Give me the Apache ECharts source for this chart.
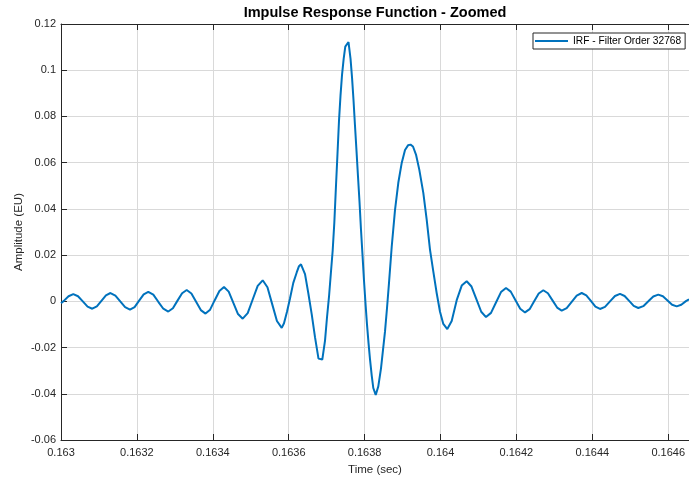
<!DOCTYPE html>
<html>
<head>
<meta charset="utf-8">
<title>Impulse Response Function - Zoomed</title>
<script src="https://cdn.jsdelivr.net/npm/echarts@6/dist/echarts.min.js"></script>
<style>
  html, body { margin: 0; padding: 0; background: #ffffff; }
  #chart { width: 689px; height: 478px; }
</style>
</head>
<body>
<div id="chart"></div>
<script>
// Impulse response, zoomed around the main lobe (time in seconds, amplitude in EU)
const timeSec = [
  0.1630000, 0.1630074, 0.1630199, 0.1630324, 0.1630449, 0.1630574, 0.1630700, 0.1630825,
  0.1630945, 0.1631065, 0.1631184, 0.1631304, 0.1631433, 0.1631561, 0.1631689, 0.1631818,
  0.1631939, 0.1632059, 0.1632179, 0.1632300, 0.1632432, 0.1632564, 0.1632696, 0.1632827,
  0.1632949, 0.1633070, 0.1633191, 0.1633312, 0.1633436, 0.1633560, 0.1633684, 0.1633808,
  0.1633929, 0.1634051, 0.1634174, 0.1634295, 0.1634419, 0.1634542, 0.1634664, 0.1634788,
  0.1634920, 0.1635051, 0.1635183, 0.1635315, 0.1635440, 0.1635565, 0.1635690, 0.1635816,
  0.1635876, 0.1635955, 0.1636034, 0.1636121, 0.1636211, 0.1636271, 0.1636324, 0.1636372,
  0.1636430, 0.1636516, 0.1636606, 0.1636693, 0.1636785, 0.1636885, 0.1636957, 0.1637009,
  0.1637062, 0.1637115, 0.1637159, 0.1637202, 0.1637246, 0.1637286, 0.1637325, 0.1637365,
  0.1637405, 0.1637449, 0.1637491, 0.1637576, 0.1637629, 0.1637668, 0.1637708, 0.1637747,
  0.1637787, 0.1637826, 0.1637866, 0.1637905, 0.1637945, 0.1637984, 0.1638024, 0.1638063,
  0.1638103, 0.1638142, 0.1638187, 0.1638229, 0.1638293, 0.1638361, 0.1638432, 0.1638485,
  0.1638538, 0.1638590, 0.1638643, 0.1638714, 0.1638801, 0.1638888, 0.1638978, 0.1639065,
  0.1639144, 0.1639210, 0.1639275, 0.1639354, 0.1639441, 0.1639547, 0.1639636, 0.1639723,
  0.1639810, 0.1639900, 0.1639987, 0.1640074, 0.1640179, 0.1640295, 0.1640427, 0.1640559,
  0.1640690, 0.1640817, 0.1640945, 0.1641073, 0.1641199, 0.1641331, 0.1641462, 0.1641594,
  0.1641726, 0.1641851, 0.1641976, 0.1642101, 0.1642227, 0.1642348, 0.1642468, 0.1642588,
  0.1642709, 0.1642830, 0.1642951, 0.1643073, 0.1643194, 0.1643325, 0.1643457, 0.1643589,
  0.1643721, 0.1643842, 0.1643962, 0.1644082, 0.1644203, 0.1644335, 0.1644466, 0.1644598,
  0.1644730, 0.1644851, 0.1644971, 0.1645091, 0.1645212, 0.1645344, 0.1645476, 0.1645607,
  0.1645739, 0.1645860, 0.1645982, 0.1646103, 0.1646224, 0.1646345, 0.1646467, 0.1646548
];

const amplitude = [
  -0.0008, 0.0002, 0.0022, 0.0031, 0.0022, 0.0000, -0.0023, -0.0032,
  -0.0022, 0.0002, 0.0026, 0.0036, 0.0025, 0.0000, -0.0025, -0.0036,
  -0.0025, 0.0003, 0.0030, 0.0041, 0.0029, -0.0002, -0.0032, -0.0044,
  -0.0030, 0.0003, 0.0035, 0.0049, 0.0034, -0.0002, -0.0038, -0.0053,
  -0.0036, 0.0005, 0.0045, 0.0062, 0.0042, -0.0007, -0.0055, -0.0075,
  -0.0051, 0.0008, 0.0067, 0.0091, 0.0061, -0.0012, -0.0085, -0.0115,
  -0.0095, -0.0045, 0.0012, 0.0080, 0.0125, 0.0152, 0.0160, 0.0155,
  0.0118, 0.0036, -0.0055, -0.0155, -0.0248, -0.0252, -0.0170, -0.0070,
  0.0020, 0.0130, 0.0220, 0.0340, 0.0500, 0.0640, 0.0780, 0.0890,
  0.0980, 0.1050, 0.1102, 0.1122, 0.1050, 0.0970, 0.0870, 0.0760,
  0.0650, 0.0540, 0.0430, 0.0310, 0.0200, 0.0090, -0.0010, -0.0100,
  -0.0180, -0.0250, -0.0320, -0.0375, -0.0405, -0.0368, -0.0290, -0.0210,
  -0.0130, -0.0030, 0.0080, 0.0235, 0.0395, 0.0513, 0.0599, 0.0655,
  0.0675, 0.0678, 0.0670, 0.0635, 0.0570, 0.0469, 0.0354, 0.0224,
  0.0130, 0.0035, -0.0045, -0.0098, -0.0120, -0.0085, 0.0005, 0.0068,
  0.0087, 0.0064, 0.0010, -0.0045, -0.0068, -0.0050, -0.0005, 0.0040,
  0.0058, 0.0042, 0.0005, -0.0032, -0.0048, -0.0034, 0.0000, 0.0034,
  0.0048, 0.0035, 0.0004, -0.0027, -0.0040, -0.0029, -0.0002, 0.0025,
  0.0036, 0.0026, 0.0002, -0.0023, -0.0033, -0.0024, 0.0000, 0.0023,
  0.0032, 0.0023, 0.0002, -0.0020, -0.0029, -0.0021, 0.0000, 0.0021,
  0.0029, 0.0022, 0.0004, -0.0015, -0.0022, -0.0015, 0.0001, 0.0009
];

const seriesName = 'IRF - Filter Order 32768';
const chartTitle = 'Impulse Response Function - Zoomed';
const xAxisTitle = 'Time (sec)';
const yAxisTitle = 'Amplitude (EU)';

// Axis ranges and tick spacing
const xRange = [0.163, 0.1646548];
const xStep = 0.0002;
const yRange = [-0.06, 0.12];
const yStep = 0.02;

const FONT = '"Liberation Sans", Arial, Helvetica, sans-serif';
const AXIS_COLOR = '#262626';
const GRID_COLOR = '#d9d9d9';
const LINE_COLOR = '#0072BD';

const chart = echarts.init(document.getElementById('chart'), null, { renderer: 'canvas' });

const option = {
  animation: false,
  backgroundColor: '#ffffff',
  grid: { left: 61, right: 0, top: 24, bottom: 38, containLabel: false, outerBoundsMode: 'none' },
  graphic: [{
    type: 'text',
    x: 375,
    y: 13,
    style: {
      text: chartTitle,
      font: 'bold 14.5px ' + FONT,
      fill: '#000000',
      align: 'center',
      verticalAlign: 'middle'
    },
    z: 10
  }],
  legend: {
    left: 533,
    top: 33,
    padding: [2, 4, 2, 2],
    itemWidth: 33,
    itemHeight: 2,
    icon: 'rect',
    borderColor: AXIS_COLOR,
    borderWidth: 1,
    backgroundColor: '#ffffff',
    textStyle: { fontFamily: FONT, fontSize: 10.2, color: '#000000', lineHeight: 12 },
    data: [seriesName]
  },
  xAxis: [{
    type: 'value',
    position: 'bottom',
    min: xRange[0],
    max: xRange[1],
    interval: xStep,
    name: xAxisTitle,
    nameLocation: 'middle',
    nameGap: 24,
    nameMoveOverlap: false,
    nameTextStyle: { fontFamily: FONT, fontSize: 11.5, color: AXIS_COLOR },
    axisLine: { show: true, onZero: false, lineStyle: { color: AXIS_COLOR, width: 1 } },
    axisTick: { show: true, inside: true, length: 6, lineStyle: { color: AXIS_COLOR } },
    axisLabel: { margin: 7, fontFamily: FONT, fontSize: 11, color: AXIS_COLOR, showMaxLabel: false },
    splitLine: { show: true, lineStyle: { color: GRID_COLOR, width: 1 } }
  }, {
    type: 'value',
    position: 'top',
    min: xRange[0],
    max: xRange[1],
    interval: xStep,
    axisLine: { show: true, onZero: false, lineStyle: { color: AXIS_COLOR, width: 1 } },
    axisTick: { show: true, inside: true, length: 6, lineStyle: { color: AXIS_COLOR } },
    axisLabel: { show: false },
    splitLine: { show: false }
  }],
  yAxis: [{
    type: 'value',
    position: 'left',
    min: yRange[0],
    max: yRange[1],
    interval: yStep,
    name: yAxisTitle,
    nameLocation: 'middle',
    nameGap: 36,
    nameMoveOverlap: false,
    nameRotate: 90,
    nameTextStyle: { fontFamily: FONT, fontSize: 11.5, color: AXIS_COLOR },
    axisLine: { show: true, onZero: false, lineStyle: { color: AXIS_COLOR, width: 1 } },
    axisTick: { show: true, inside: true, length: 6, lineStyle: { color: AXIS_COLOR } },
    axisLabel: { margin: 5, fontFamily: FONT, fontSize: 11, color: AXIS_COLOR },
    splitLine: { show: true, lineStyle: { color: GRID_COLOR, width: 1 } }
  }],
  series: [{
    name: seriesName,
    type: 'line',
    xAxisIndex: 0,
    yAxisIndex: 0,
    data: timeSec.map((t, i) => [t, amplitude[i]]),
    symbol: 'none',
    showSymbol: false,
    smooth: false,
    clip: true,
    lineStyle: { color: LINE_COLOR, width: 2 },
    itemStyle: { color: LINE_COLOR },
    z: 3
  }]
};

chart.setOption(option);
</script>
</body>
</html>
